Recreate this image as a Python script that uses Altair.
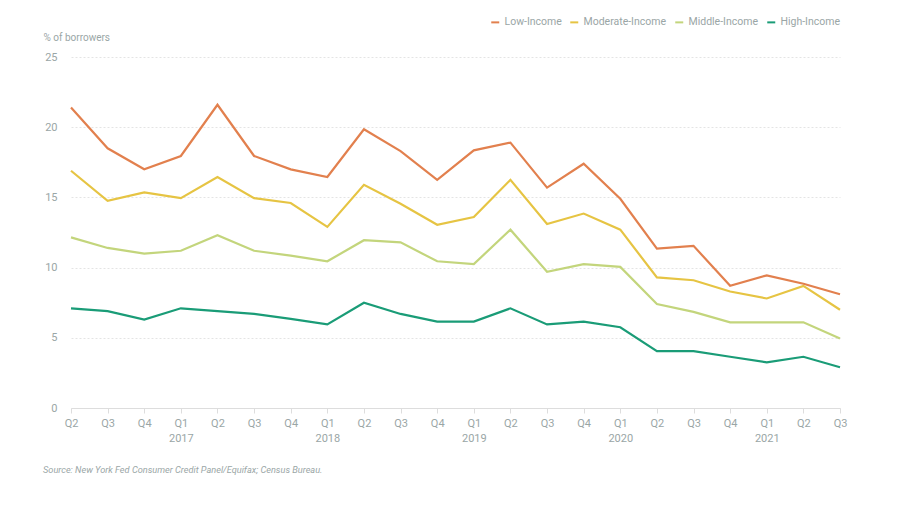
import altair as alt
import pandas as pd

quarters = ["2016 Q2", "2016 Q3", "2016 Q4",
            "2017 Q1", "2017 Q2", "2017 Q3", "2017 Q4",
            "2018 Q1", "2018 Q2", "2018 Q3", "2018 Q4",
            "2019 Q1", "2019 Q2", "2019 Q3", "2019 Q4",
            "2020 Q1", "2020 Q2", "2020 Q3", "2020 Q4",
            "2021 Q1", "2021 Q2", "2021 Q3"]

low_income = [21.4, 18.5, 17.0, 17.95, 21.6, 17.95, 17.0, 16.45, 19.85, 18.3, 16.25,
              18.35, 18.9, 15.7, 17.4, 14.9, 11.35, 11.55, 8.7, 9.45, 8.85, 8.1]
moderate_income = [16.9, 14.75, 15.35, 14.95, 16.45, 14.95, 14.6, 12.9, 15.9, 14.55, 13.05,
                   13.6, 16.25, 13.1, 13.85, 12.7, 9.3, 9.1, 8.3, 7.8, 8.7, 7.0]
middle_income = [12.15, 11.4, 11.0, 11.2, 12.3, 11.2, 10.85, 10.45, 11.95, 11.8, 10.45,
                 10.25, 12.7, 9.7, 10.25, 10.05, 7.4, 6.85, 6.1, 6.1, 6.1, 4.95]
high_income = [7.1, 6.9, 6.3, 7.1, 6.9, 6.7, 6.35, 5.95, 7.5, 6.7, 6.15,
               6.15, 7.1, 5.95, 6.15, 5.75, 4.05, 4.05, 3.65, 3.25, 3.65, 2.9]

series_names = ["Low-Income", "Moderate-Income", "Middle-Income", "High-Income"]
series_colors = ["#e2804e", "#e6c443", "#c3d57c", "#1a9c77"]

rows = []
for name, vals in zip(series_names, [low_income, moderate_income, middle_income, high_income]):
    for q, v in zip(quarters, vals):
        rows.append({"quarter": q, "value": v, "group": name})
df = pd.DataFrame(rows)

label_color = "#9aa6a6"
font = "Roboto"

label_expr = ("substring(datum.value, 5) == 'Q1' ? "
              "[substring(datum.value, 5), substring(datum.value, 0, 4)] : "
              "substring(datum.value, 5)")

chart = alt.Chart(df).mark_line(strokeWidth=2.2).encode(
    x=alt.X("quarter:O", sort=quarters,
            scale=alt.Scale(type="point", padding=0),
            axis=alt.Axis(title=None, labelAngle=0, labelExpr=label_expr,
                          domainColor="#dddddd", tickColor="#dddddd", tickSize=5,
                          labelColor=label_color, labelFont=font, labelFontSize=11,
                          labelPadding=4, labelLineHeight=15, grid=False)),
    y=alt.Y("value:Q", scale=alt.Scale(domain=[0, 25]),
            axis=alt.Axis(values=[0, 5, 10, 15, 20, 25], title="% of borrowers",
                          titleAngle=0, titleX=-28, titleY=-20, titleAlign="left",
                          titleBaseline="middle", titleColor=label_color, titleFont=font,
                          titleFontSize=10, titleFontWeight="normal",
                          domain=False, ticks=False, labelPadding=14,
                          labelColor=label_color, labelFont=font, labelFontSize=11,
                          grid=True, gridColor="#e4e4e4", gridDash=[2, 2])),
    color=alt.Color("group:N", sort=series_names,
                    scale=alt.Scale(domain=series_names, range=series_colors),
                    legend=alt.Legend(title=None, orient="none", direction="horizontal",
                                      legendX=419, legendY=-40, symbolType="stroke",
                                      symbolSize=64, symbolStrokeWidth=2,
                                      labelColor=label_color, labelFont=font,
                                      labelFontSize=10.5, columnPadding=4, labelOffset=4,
                                      columns=4)),
).properties(
    width=769, height=351,
    background="white",
    autosize=alt.AutoSizeParams(type="none"),
    padding={"left": 63, "top": 49, "right": 40, "bottom": 70},
    title=alt.TitleParams("Source: New York Fed Consumer Credit Panel/Equifax; Census Bureau.",
                          orient="bottom", anchor="start", fontStyle="italic",
                          font=font, fontSize=9.2, color=label_color, fontWeight="normal",
                          dx=-28, offset=23, frame="group"),
).configure_view(strokeWidth=0)

chart.save("out.html", embed_options={"renderer": "svg", "actions": False})
